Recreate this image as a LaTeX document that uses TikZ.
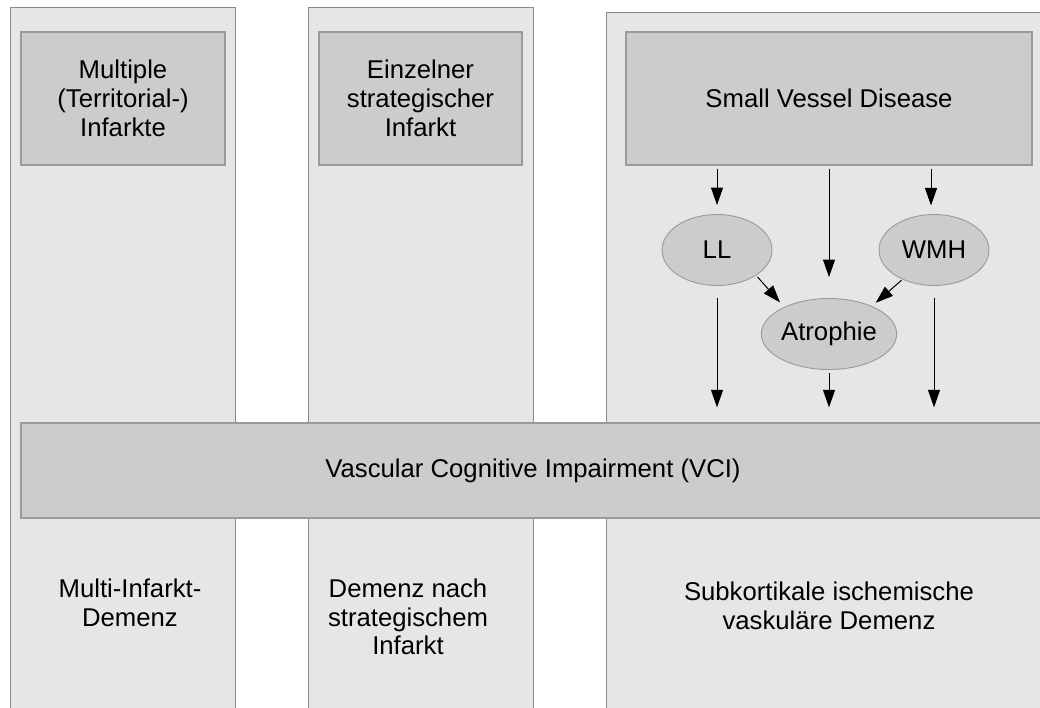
\documentclass[tikz,border=0pt]{standalone}
\usepackage{fontspec}
\setmainfont{Liberation Sans}
\usetikzlibrary{arrows.meta,shapes.geometric}
\definecolor{colfill}{HTML}{E6E6E6}
\definecolor{colline}{HTML}{8A8A8A}
\definecolor{boxfill}{HTML}{CCCCCC}
\definecolor{boxline}{HTML}{9A9A9A}
\tikzset{
  txt/.style={font=\fontsize{25.7}{28.8}\selectfont},
  column/.style={draw=colline, fill=colfill, line width=1.1pt},
  gbox/.style={txt, draw=boxline, fill=boxfill, line width=1.3pt, rectangle, inner sep=0pt, align=center},
  oval/.style={txt, draw=boxline, fill=boxfill, line width=0.9pt, ellipse, inner sep=0pt, minimum width=110pt, minimum height=71pt},
  lbl/.style={txt, align=center, inner sep=0pt},
  arr/.style={draw=black, line width=1pt, -{Triangle[length=17.5pt,width=12pt]}}
}
\begin{document}
\begin{tikzpicture}[x=1pt, y=-1pt]
\useasboundingbox (0,0) rectangle (1040,708);
\clip (0,0) rectangle (1040,708);
% columns
\node[column, rectangle, inner sep=0pt, minimum width=225pt, minimum height=720pt, anchor=north west] (c1) at (10,7) {};
\node[column, rectangle, inner sep=0pt, minimum width=225pt, minimum height=720pt, anchor=north west] (c2) at (308,7) {};
\node[column, rectangle, inner sep=0pt, minimum width=460pt, minimum height=720pt, anchor=north west] (c3) at (606,12) {};
% top boxes
\node[gbox, minimum width=204pt, minimum height=133pt] (m1) at (123,98.5) {Multiple\\(Territorial-)\\Infarkte};
\node[gbox, minimum width=203pt, minimum height=133pt] (m2) at (420.5,98.5) {Einzelner\\strategischer\\Infarkt};
\node[gbox, minimum width=406pt, minimum height=133pt] (svd) at (829,98.5) {Small Vessel Disease};
% ellipses
\node[oval] (ll) at (717,250) {LL};
\node[oval] (wmh) at (934,250) {WMH};
\node[oval] (atr) at (829,334) {Atrophie};
% VCI
\node[gbox, minimum width=1024pt, minimum height=95pt] (vci) at (533,470.5) {Vascular Cognitive Impairment (VCI)};
% bottom labels
\node[lbl] (d1) at (130,603) {Multi-Infarkt-\\Demenz};
\node[lbl] (d2) at (408,617) {Demenz nach\\strategischem\\Infarkt};
\node[lbl] (d3) at (829,605.5) {Subkortikale ischemische\\vaskuläre Demenz};
% arrows from SVD
\draw[arr, shorten <=3pt, shorten >=9pt] (svd.south -| ll) -- (ll.north);
\draw[arr, shorten <=3pt, shorten >=21pt] (svd.south -| atr) -- (atr.north);
\draw[arr, shorten <=3pt, shorten >=9pt] (svd.south -| 931,0) -- (931,214.5);
% to atrophie
\draw[arr, shorten <=2pt, shorten >=6pt] (ll.-33) -- (atr.149);
\draw[arr, shorten <=1pt, shorten >=5pt] (wmh.-137) -- (atr.33);
% down to VCI
\draw[arr, shorten <=12.5pt, shorten >=15pt] (ll.south) -- (ll.south |- vci.north);
\draw[arr, shorten <=3.5pt, shorten >=15pt] (atr.south) -- (atr.south |- vci.north);
\draw[arr, shorten <=12.5pt, shorten >=15pt] (wmh.south) -- (wmh.south |- vci.north);
\end{tikzpicture}
\end{document}
